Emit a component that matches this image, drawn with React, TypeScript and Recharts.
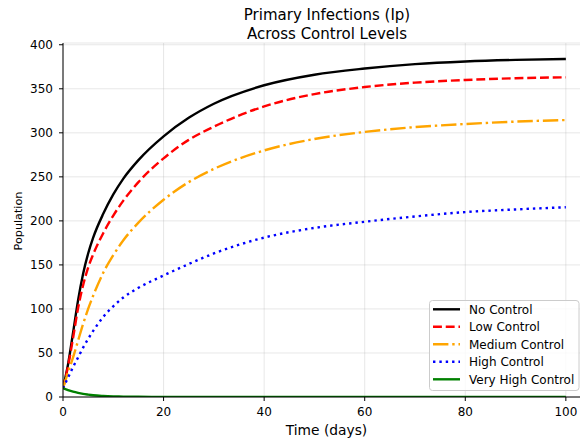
import React from 'react';
import { LineChart, Line, XAxis, YAxis, CartesianGrid } from 'recharts';

const time = [0, 1, 2, 3, 4, 5, 6, 8, 10, 12, 15, 20, 25, 30, 40, 50, 60, 70, 80, 90, 100];
const noControl = [10, 37, 73, 110, 140, 163, 181, 208, 230, 248, 269, 296, 317, 333, 354, 366, 373, 378, 381, 382.8, 383.8];
const lowControl = [10, 35, 67, 101, 127, 147, 162, 186, 206, 223, 244, 271, 292, 307, 330, 344, 352, 357, 360, 362, 363];
const mediumControl = [10, 28, 45, 64, 83, 100, 115, 141, 161, 178, 198, 224, 244, 259, 280, 293, 301, 306.5, 310, 312.7, 314.5];
const highControl = [10, 22, 34, 45, 56, 66, 75, 91, 103, 113, 124, 138, 151, 163, 181, 192, 199, 205, 210, 213, 215.5];
const veryHighControl = [10, 7.8, 6, 4.6, 3.5, 2.7, 2, 1.2, 0.7, 0.4, 0.2, 0.08, 0.03, 0, 0, 0, 0, 0, 0, 0, 0];

const xTicks = [0, 20, 40, 60, 80, 100];
const yTicks = [0, 50, 100, 150, 200, 250, 300, 350, 400];

const titleLines = ['Primary Infections (Ip)', 'Across Control Levels'];
const xLabel = 'Time (days)';
const yLabel = 'Population';

const series = [
  { key: 'noControl', name: 'No Control', values: noControl, color: '#000000', dash: undefined as string | undefined },
  { key: 'lowControl', name: 'Low Control', values: lowControl, color: '#ff0000', dash: '8.9 3.84' },
  { key: 'mediumControl', name: 'Medium Control', values: mediumControl, color: '#ffa500', dash: '15.4 3.84 2.4 3.84' },
  { key: 'highControl', name: 'High Control', values: highControl, color: '#0000ff', dash: '2.4 3.96' },
  { key: 'veryHighControl', name: 'Very High Control', values: veryHighControl, color: '#008000', dash: undefined as string | undefined },
];

const data = time.map((t, i) => {
  const row: Record<string, number> = { t };
  series.forEach((s) => {
    row[s.key] = s.values[i];
  });
  return row;
});

const FONT = '"DejaVu Sans", sans-serif';

export default function App() {
  return (
    <div
      style={{
        position: 'fixed',
        left: 0,
        top: 0,
        width: 580,
        height: 441,
        overflow: 'hidden',
        background: '#ffffff',
        fontFamily: FONT,
      }}
    >
      <div
        style={{
          position: 'absolute',
          left: 77,
          top: 6,
          width: 500,
          textAlign: 'center',
          fontSize: 15,
          lineHeight: '18.5px',
          color: '#000',
          fontFamily: FONT,
          whiteSpace: 'nowrap',
        }}
      >
        {titleLines.map((l) => (
          <div key={l}>{l}</div>
        ))}
      </div>
      <div style={{ position: 'absolute', left: 8, top: 8 }}>
        <LineChart
          width={600}
          height={430}
          data={data}
          margin={{ top: 35, right: 17, bottom: 0, left: 0 }}
          style={{ fontFamily: FONT }}
        >
          <CartesianGrid stroke="#b0b0b0" strokeOpacity={0.3} strokeWidth={1} />
          <XAxis
            dataKey="t"
            type="number"
            domain={[0, 105]}
            ticks={xTicks}
            allowDataOverflow
            height={41}
            tickSize={4}
            tickMargin={6}
            stroke="#000"
            tick={{ fill: '#000', fontSize: 12, fontFamily: FONT }}
            tickLine={{ stroke: '#000' }}
            axisLine={{ stroke: '#000' }}
          />
          <XAxis
            xAxisId="top"
            orientation="top"
            dataKey="t"
            type="number"
            domain={[0, 105]}
            allowDataOverflow
            height={0}
            tick={false}
            tickLine={false}
            axisLine={{ stroke: '#000' }}
          />
          <YAxis
            type="number"
            domain={[0, 402]}
            ticks={yTicks}
            allowDataOverflow
            width={55}
            tickSize={4}
            tickMargin={6}
            stroke="#000"
            tick={{ fill: '#000', fontSize: 12, fontFamily: FONT }}
            tickLine={{ stroke: '#000' }}
            axisLine={{ stroke: '#000' }}
          />
          {series.map((s) => (
            <Line
              key={s.key}
              dataKey={s.key}
              name={s.name}
              type="monotone"
              stroke={s.color}
              strokeWidth={2.4}
              strokeDasharray={s.dash}
              dot={false}
              activeDot={false}
              isAnimationActive={false}
            />
          ))}
        </LineChart>
      </div>
      <div
        style={{
          position: 'absolute',
          left: 176.5,
          top: 422,
          width: 300,
          textAlign: 'center',
          fontSize: 13.8,
          lineHeight: '16px',
          color: '#000',
          whiteSpace: 'nowrap',
        }}
      >
        {xLabel}
      </div>
      <div
        style={{
          position: 'absolute',
          left: 18,
          top: 220.5,
          fontSize: 11.2,
          lineHeight: '13px',
          color: '#000',
          whiteSpace: 'nowrap',
          transform: 'translate(-50%, -50%) rotate(-90deg)',
        }}
      >
        {yLabel}
      </div>
      <svg width={152} height={92} style={{ position: 'absolute', left: 429, top: 300 }}>
        <rect x={0.5} y={0.5} width={149.5} height={90} rx={3} ry={3} fill="#ffffff" fillOpacity={0.8} stroke="#cccccc" strokeWidth={1} />
        {series.map((s, i) => {
          const cy = 9.3 + i * 17.5;
          return (
            <g key={s.key}>
              <line x1={4} x2={31} y1={cy} y2={cy} stroke={s.color} strokeWidth={2.4} strokeDasharray={s.dash} />
              <text x={40} y={cy} dy="0.36em" fontSize={12} fontFamily={FONT} fill="#000">
                {s.name}
              </text>
            </g>
          );
        })}
      </svg>
    </div>
  );
}
